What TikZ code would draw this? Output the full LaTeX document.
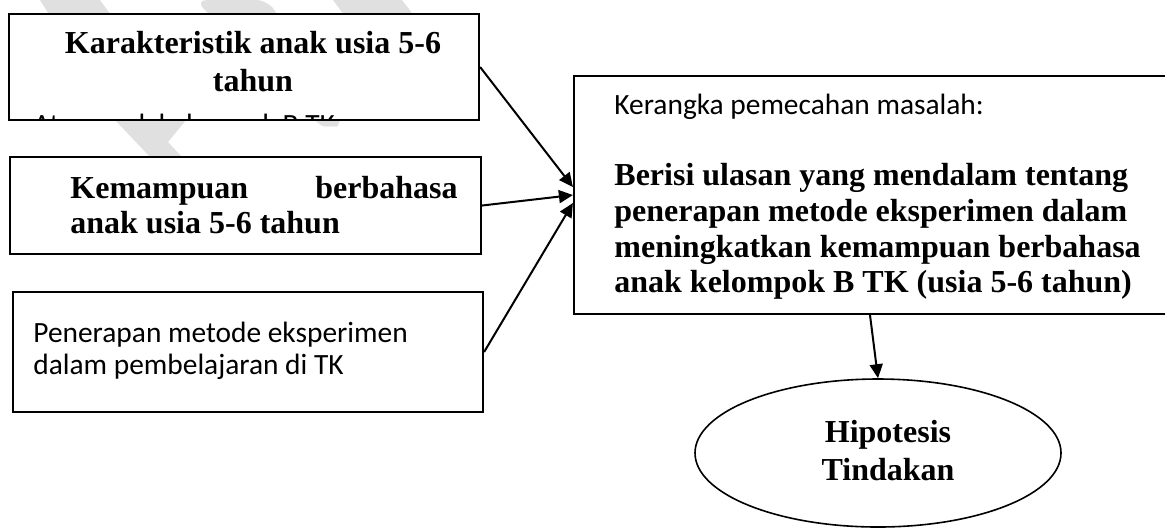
\documentclass[tikz,border=0pt]{standalone}
\usepackage{fontspec}
\setmainfont{Liberation Serif}
\newfontfamily\calfont{Carlito}
\usetikzlibrary{arrows.meta,shapes.geometric}
\definecolor{wmgray}{HTML}{E0E0E0}
\tikzset{
  box/.style={draw=black,line width=1.1pt,fill=white,rectangle,inner sep=0pt},
  oval/.style={draw=black,line width=0.8pt,fill=white,ellipse,inner sep=0pt},
  btext/.style={inner sep=0pt,font=\bfseries\fontsize{16}{18}\selectfont},
  ctext/.style={inner sep=0pt,font=\calfont\fontsize{14.7}{16}\selectfont},
  conn/.style={line width=1pt,-{Triangle[length=7pt,width=6.5pt]}},
  wm/.style={fill=wmgray,draw=none}
}
\begin{document}
\begin{tikzpicture}[x=0.5pt,y=-0.5pt]
\useasboundingbox (0,0) rectangle (1165,527);
% watermark
\fill[wm] (40,0) -- (100,0) -- (187,119) -- (168,142) -- (182,157) -- (150,157) -- (115,120) -- cycle;
\fill[wm,rounded corners=6pt] (195,0) -- (268,0) -- (345,122) -- (330,130) -- (315,122) -- cycle;
\fill[wm] (333,0) -- (402,0) -- (425,30) -- (355,30) -- cycle;
% boxes
\node[box,minimum width=235pt,minimum height=53pt] (b1) at (244,67) {};
\node[box,minimum width=235.5pt,minimum height=48.5pt] (b2) at (245.5,205.5) {};
\node[box,minimum width=235pt,minimum height=60pt] (b3) at (248,352) {};
\node[box,minimum width=305.5pt,minimum height=119pt] (b4) at (879.5,195) {};
\node[oval,minimum width=183pt,minimum height=74pt] (e) at (878,453) {};
% box 1 text
\node[btext,anchor=base] (t1a) at (253,53) {Karakteristik anak usia 5-6};
\node[btext,anchor=base] (t1b) at (253,91) {tahun};
\begin{scope}
\clip (11,16) rectangle (477,118);
\node[ctext,anchor=base west] (t1c) at (33,134) {Atau anak kelompok B TK};
\end{scope}
% box 2 text
\node[btext,anchor=base west] (t2a) at (70,198) {Kemampuan};
\node[btext,anchor=base east] (t2b) at (458,198) {berbahasa};
\node[btext,anchor=base west] (t2c) at (70,233) {anak usia 5-6 tahun};
% box 3 text
\node[ctext,anchor=base west] (t3a) at (33,342) {Penerapan metode eksperimen};
\node[ctext,anchor=base west] (t3b) at (33,374) {dalam pembelajaran di TK};
% box 4 text
\node[ctext,anchor=base west] (t4a) at (614,114) {Kerangka pemecahan masalah:};
\node[btext,anchor=base west] (t4b) at (614,185) {Berisi ulasan yang mendalam tentang};
\node[btext,anchor=base west] (t4c) at (614,221) {penerapan metode eksperimen dalam};
\node[btext,anchor=base west] (t4d) at (614,257) {meningkatkan kemampuan berbahasa};
\node[btext,anchor=base west] (t4e) at (614,292) {anak kelompok B TK (usia 5-6 tahun)};
% ellipse text
\node[btext,anchor=base] (t5a) at (888,442) {Hipotesis};
\node[btext,anchor=base] (t5b) at (888,480) {Tindakan};
% connectors
\draw[conn] (b1.east) -- ([yshift=4pt]b4.west);
\draw[conn] (b2.east) -- (b4.west);
\draw[conn] (b3.east) -- ([yshift=-4pt]b4.west);
\draw[conn] ([xshift=-4.75pt]b4.south) -- (e.north);
\end{tikzpicture}
\end{document}
